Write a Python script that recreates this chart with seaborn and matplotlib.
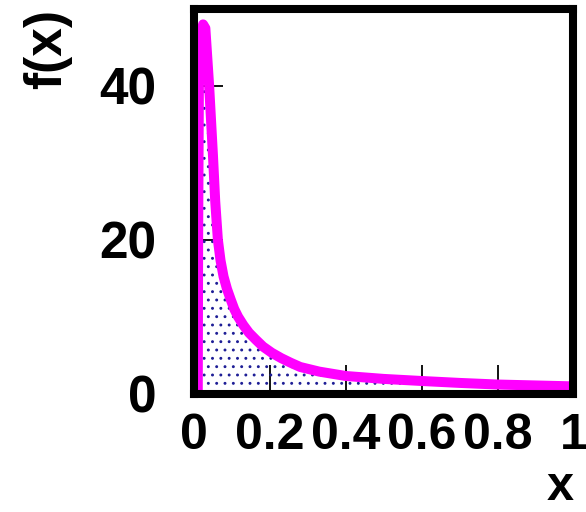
import matplotlib
matplotlib.use("Agg")
import matplotlib.pyplot as plt
import seaborn as sns
import pandas as pd

# curve values
x_vals = [0.010, 0.011, 0.013, 0.018, 0.024, 0.030, 0.036, 0.040, 0.050, 0.056,
          0.063, 0.070, 0.078, 0.087, 0.097, 0.106, 0.116, 0.130, 0.145, 0.163,
          0.182, 0.205, 0.230, 0.255, 0.280, 0.330, 0.400, 0.500, 0.600, 0.700,
          0.800, 0.900, 1.000]
f_vals = [0.0, 20.0, 40.0, 46.0, 48.0, 47.5, 43.0, 40.0, 31.0, 25.0,
          20.0, 17.3, 15.2, 13.6, 12.2, 11.0, 10.0, 8.9, 7.9, 7.0,
          6.1, 5.3, 4.6, 4.0, 3.45, 2.85, 2.28, 1.90, 1.63, 1.38,
          1.17, 1.05, 0.93]

x_ticks = [0, 0.2, 0.4, 0.6, 0.8, 1.0]
x_tick_labels = ["0", "0.2", "0.4", "0.6", "0.8", "1"]
y_ticks = [0, 20, 40]
y_tick_labels = ["0", "20", "40"]

df = pd.DataFrame({"x": x_vals, "f": f_vals})

sns.set_theme(style="white")
plt.rcParams["font.family"] = ["Liberation Sans", "DejaVu Sans"]
plt.rcParams["hatch.linewidth"] = 0.9

fig = plt.figure(figsize=(5.86, 5.12), dpi=100)
ax = fig.add_axes([0.331, 0.2314, 0.6476, 0.751])

# stippled area under the curve
ax.fill_between(df["x"], 0, df["f"], facecolor="none", edgecolor="#1e1e96",
                hatch="..", linewidth=0)

sns.lineplot(data=df, x="x", y="f", ax=ax, color="#ff00ff", linewidth=7.2,
             solid_capstyle="butt", solid_joinstyle="round", sort=False)

ax.set_xlim(0, 1)
ax.set_ylim(0, 50)
ax.set_xticks(x_ticks)
ax.set_xticklabels(x_tick_labels)
ax.set_yticks(y_ticks)
ax.set_yticklabels(y_tick_labels)

for s in ax.spines.values():
    s.set_visible(True)
    s.set_color("black")
    s.set_linewidth(5.8)
    s.set_zorder(5)

ax.tick_params(axis="x", direction="in", length=21, width=1.3, color="black",
               pad=14, labelsize=36, bottom=True, top=False)
ax.tick_params(axis="y", direction="in", length=21, width=1.3, color="black",
               pad=27, labelsize=37, left=True, right=False)
for lab in ax.get_xticklabels() + ax.get_yticklabels():
    lab.set_fontweight("bold")
    lab.set_color("black")

ax.set_xlabel("x", loc="right", fontsize=35, fontweight="bold", color="black")
ax.xaxis.label.set_verticalalignment("baseline")
ax.xaxis.set_label_coords(1.0, -0.277)
ax.set_ylabel("f(x)", loc="top", fontsize=37, fontweight="bold", color="black")
ax.yaxis.set_label_coords(-0.3215, 1.0)

fig.savefig("out.png", dpi=100, facecolor="white")
